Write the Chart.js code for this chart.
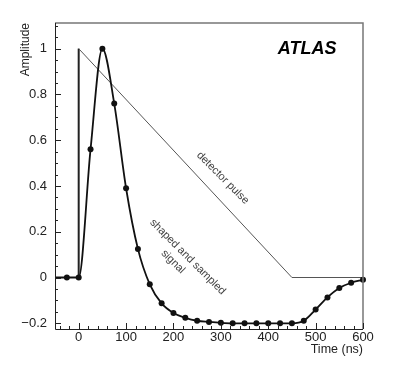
<!DOCTYPE html>
<html>
<head>
<meta charset="utf-8">
<script src="https://cdn.jsdelivr.net/npm/chart.js@4"></script>
<style>
    html, body { margin: 0; padding: 0; background: #fff; }
</style>
</head>
<body>
<canvas id="pulseChart" width="400" height="374"></canvas>
<script>
// sampled, shaped signal (every 25 ns), first point only carries the baseline to the left edge
var sampleTimes = [-50, -25, 0, 25, 50, 75, 100, 125, 150, 175, 200, 225, 250, 275, 300,
    325, 350, 375, 400, 425, 450, 475, 500, 525, 550, 575, 600];
var sampleAmps = [0, 0, 0, 0.56, 1.0, 0.76, 0.39, 0.125, -0.03, -0.113, -0.155, -0.176, -0.189, -0.194, -0.198,
    -0.2, -0.2, -0.2, -0.2, -0.2, -0.2, -0.189, -0.14, -0.087, -0.046, -0.023, -0.01];

// triangular detector pulse
var pulseTimes = [0, 0, 450, 600];
var pulseAmps = [0, 1, 0, 0];

var xTickValues = [0, 100, 200, 300, 400, 500, 600];
var yTickValues = [-0.2, 0, 0.2, 0.4, 0.6, 0.8, 1];

function toPoints(xs, ys) {
    return xs.map(function (x, i) { return { x: x, y: ys[i] }; });
}

function fmtY(v) {
    if (v === 0) return '0';
    if (v === 1) return '1';
    return (v < 0 ? '\u2212' : '') + Math.abs(v).toFixed(1);
}

// frame, inward ROOT-style ticks and the text labels
var decorations = {
    id: 'decorations',
    afterDatasetsDraw: function (chart) {
        var ctx = chart.ctx, x = chart.scales.x, y = chart.scales.y;
        ctx.save();
        ctx.fillStyle = '#000';
        ctx.textAlign = 'center';
        ctx.textBaseline = 'middle';
        ctx.font = 'italic bold 18px "Liberation Sans", Arial, sans-serif';
        ctx.fillText('ATLAS', x.getPixelForValue(482), y.getPixelForValue(1.0));

        ctx.fillStyle = '#444';
        ctx.font = '11px "Liberation Sans", Arial, sans-serif';
        var notes = [
            ['detector pulse', 304, 0.435],
            ['shaped and sampled', 230, 0.09],
            ['signal', 199, 0.069]
        ];
        notes.forEach(function (n) {
            ctx.save();
            ctx.translate(x.getPixelForValue(n[1]), y.getPixelForValue(n[2]));
            ctx.rotate(Math.PI / 4);
            ctx.fillText(n[0], 0, 0);
            ctx.restore();
        });
        ctx.restore();
    },
    afterDraw: function (chart) {
        var ctx = chart.ctx, a = chart.chartArea, x = chart.scales.x, y = chart.scales.y;
        ctx.save();
        ctx.strokeStyle = '#777';
        ctx.lineWidth = 1.5;
        ctx.beginPath();
        ctx.moveTo(a.left, a.top);
        ctx.lineTo(a.right, a.top);
        ctx.lineTo(a.right, a.bottom);
        ctx.stroke();

        ctx.strokeStyle = '#222';
        ctx.lineWidth = 1;
        ctx.beginPath();
        ctx.moveTo(a.left + 0.5, a.top);
        ctx.lineTo(a.left + 0.5, a.bottom + 0.5);
        ctx.lineTo(a.right, a.bottom + 0.5);
        ctx.stroke();

        ctx.beginPath();
        for (var t = -40; t <= 600; t += 20) {
            var px = Math.round(x.getPixelForValue(t)) + 0.5;
            var len = t % 100 === 0 ? 6 : 3;
            ctx.moveTo(px, a.bottom);
            ctx.lineTo(px, a.bottom - len);
        }
        for (var i = -4; i <= 22; i++) {
            var py = Math.round(y.getPixelForValue(i * 0.05)) + 0.5;
            var l = i % 4 === 0 ? 6 : 3;
            ctx.moveTo(a.left, py);
            ctx.lineTo(a.left + l, py);
        }
        ctx.stroke();
        ctx.restore();
    }
};

var pulseCtx = document.getElementById('pulseChart').getContext('2d');
new Chart(pulseCtx, {
    type: 'line',
    data: {
        datasets: [{
            label: 'shaped and sampled signal',
            data: toPoints(sampleTimes, sampleAmps),
            borderColor: '#111',
            borderWidth: 1.8,
            cubicInterpolationMode: 'monotone',
            pointRadius: function (c) { return c.dataIndex === 0 ? 0 : 3; },
            pointBackgroundColor: '#111',
            pointBorderWidth: 0,
            clip: 5
        }, {
            label: 'detector pulse',
            data: toPoints(pulseTimes, pulseAmps),
            borderColor: '#555',
            borderWidth: 1,
            pointRadius: 0,
            tension: 0,
            segment: {
                borderWidth: function (c) { return c.p0DataIndex === 0 ? 2 : 1; },
                borderColor: function (c) { return c.p0DataIndex === 0 ? '#222' : '#555'; }
            }
        }]
    },
    options: {
        responsive: false,
        animation: false,
        layout: { padding: { top: 23, right: 37, left: 0, bottom: 0 } },
        plugins: {
            legend: { display: false },
            tooltip: { enabled: false }
        },
        scales: {
            x: {
                type: 'linear',
                min: -50,
                max: 600,
                grid: { display: false, drawTicks: false },
                border: { display: false },
                afterBuildTicks: function (s) { s.ticks = xTickValues.map(function (v) { return { value: v }; }); },
                afterFit: function (s) { s.height = 45; },
                ticks: {
                    font: { size: 13, family: '"Liberation Sans", Arial, sans-serif' },
                    color: '#222',
                    padding: 1,
                    maxRotation: 0,
                    autoSkip: false
                },
                title: {
                    display: true,
                    text: 'Time (ns)',
                    align: 'end',
                    color: '#222',
                    font: { size: 12.5, family: '"Liberation Sans", Arial, sans-serif' },
                    padding: { top: 0, bottom: 17 }
                }
            },
            y: {
                min: -0.225,
                max: 1.112,
                grid: { display: false, drawTicks: false },
                border: { display: false },
                afterBuildTicks: function (s) { s.ticks = yTickValues.map(function (v) { return { value: v }; }); },
                afterFit: function (s) { s.width = 55; },
                ticks: {
                    font: { size: 13, family: '"Liberation Sans", Arial, sans-serif' },
                    color: '#222',
                    padding: 8,
                    callback: function (v) { return fmtY(v); }
                },
                title: {
                    display: true,
                    text: 'Amplitude',
                    align: 'end',
                    color: '#222',
                    font: { size: 12, family: '"Liberation Sans", Arial, sans-serif' },
                    padding: { top: 18, bottom: 0 }
                }
            }
        }
    },
    plugins: [decorations]
});
</script>
</body>
</html>
